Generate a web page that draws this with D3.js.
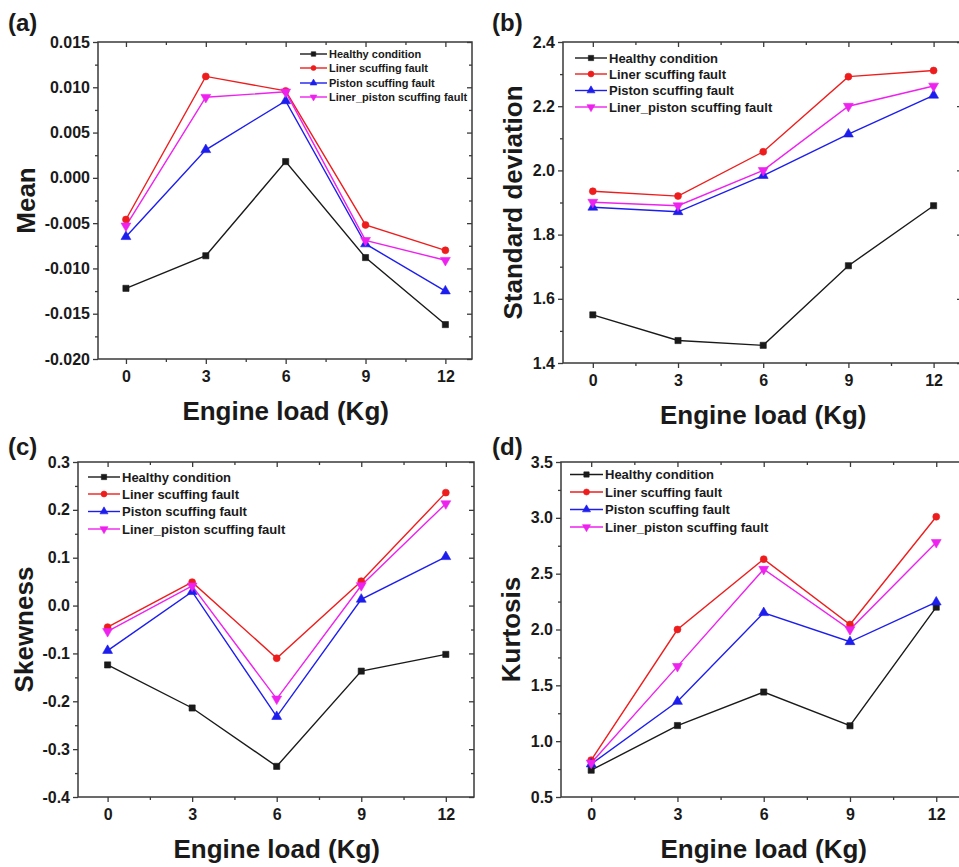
<!DOCTYPE html>
<html><head><meta charset="utf-8">
<script src="https://cdn.jsdelivr.net/npm/d3@7"></script>
<style>
body{margin:0;background:#fff}
svg{display:block}
text{font-family:"Liberation Sans",Arial,Helvetica,sans-serif;font-weight:bold;fill:#1a1a1a}
</style>
</head><body>
<svg id="chart" width="959" height="867"></svg>
<script>
// ---------------- data ----------------
const loads = [0, 3, 6, 9, 12];
const loadMinorTicks = [-1.5, 1.5, 4.5, 7.5, 10.5];
const seriesNames = ["Healthy condition", "Liner scuffing fault", "Piston scuffing fault", "Liner_piston scuffing fault"];

const meanHealthy     = [-0.0122, -0.0086, 0.0018, -0.0088, -0.0162];
const meanLiner       = [-0.0046, 0.0112, 0.0096, -0.0052, -0.0080];
const meanPiston      = [-0.0065, 0.0031, 0.0085, -0.0073, -0.0125];
const meanLinerPiston = [-0.0053, 0.0089, 0.0095, -0.0069, -0.0091];

const stdHealthy     = [1.550, 1.470, 1.455, 1.703, 1.890];
const stdLiner       = [1.935, 1.920, 2.058, 2.292, 2.311];
const stdPiston      = [1.885, 1.871, 1.984, 2.113, 2.234];
const stdLinerPiston = [1.901, 1.890, 2.000, 2.200, 2.263];

const skewHealthy     = [-0.124, -0.214, -0.336, -0.137, -0.102];
const skewLiner       = [-0.045, 0.049, -0.110, 0.051, 0.236];
const skewPiston      = [-0.094, 0.029, -0.232, 0.013, 0.102];
const skewLinerPiston = [-0.054, 0.041, -0.195, 0.042, 0.213];

const kurtHealthy     = [0.740, 1.140, 1.440, 1.138, 2.200];
const kurtLiner       = [0.830, 2.000, 2.630, 2.045, 3.010];
const kurtPiston      = [0.795, 1.355, 2.150, 1.890, 2.245];
const kurtLinerPiston = [0.805, 1.670, 2.540, 2.000, 2.780];

const meanTicks = [-0.020, -0.015, -0.010, -0.005, 0.000, 0.005, 0.010, 0.015];
const stdTicks  = [1.4, 1.6, 1.8, 2.0, 2.2, 2.4];
const skewTicks = [-0.4, -0.3, -0.2, -0.1, 0.0, 0.1, 0.2, 0.3];
const kurtTicks = [0.5, 1.0, 1.5, 2.0, 2.5, 3.0, 3.5];

// ---------------- style ----------------
const seriesColors = ["#1a1a1a", "#ee1d1d", "#1d1dee", "#ee22ee"];
const seriesSymbols = ["square", "circle", "up", "down"];

// ---------------- layout ----------------
const panels = [
  {label:"(a)", lx:8, ly:31, left:98, right:472, top:42, bottom:359,
   values:[meanHealthy, meanLiner, meanPiston, meanLinerPiston], ticks:meanTicks, fmt:".3f",
   yTitle:"Mean", yTitleX:35, leg:{x1:300, x2:327, rows:[54,68,83,97], fs:11}},
  {label:"(b)", lx:492, ly:31, left:563, right:962, top:42, bottom:363,
   values:[stdHealthy, stdLiner, stdPiston, stdLinerPiston], ticks:stdTicks, fmt:".1f",
   yTitle:"Standard deviation", yTitleX:522, leg:{x1:575, x2:607, rows:[58,74,90.5,107], fs:13}},
  {label:"(c)", lx:8, ly:455, left:78, right:474, top:462, bottom:797,
   values:[skewHealthy, skewLiner, skewPiston, skewLinerPiston], ticks:skewTicks, fmt:".1f",
   yTitle:"Skewness", yTitleX:33, leg:{x1:88, x2:120, rows:[477,494,511.5,529], fs:13}},
  {label:"(d)", lx:492, ly:455, left:561, right:965, top:462, bottom:797,
   values:[kurtHealthy, kurtLiner, kurtPiston, kurtLinerPiston], ticks:kurtTicks, fmt:".1f",
   yTitle:"Kurtosis", yTitleX:520, leg:{x1:570, x2:603, rows:[474.5,492,509.5,527], fs:13}}
];

const svg = d3.select("#chart");

function symbolPath(kind, size){
  if (kind === "square") return d3.symbol(d3.symbolSquare, size)();
  if (kind === "circle") return d3.symbol(d3.symbolCircle, size)();
  return d3.symbol(d3.symbolTriangle, size)();
}
function drawMarker(g, kind, cx, cy, size, color){
  g.append("path")
    .attr("d", symbolPath(kind, size))
    .attr("transform", `translate(${cx},${cy})` + (kind === "down" ? " rotate(180)" : ""))
    .attr("fill", color).attr("stroke", color).attr("stroke-width", 0.6);
}

panels.forEach(p => {
  const g = svg.append("g");
  const x = d3.scaleLinear().domain([-1.05, 13]).range([p.left, p.right]);
  const yDom = d3.extent(p.ticks);
  const y = d3.scaleLinear().domain(yDom).range([p.bottom, p.top]);
  const f = d3.format(p.fmt);
  const fmt = v => f(v).replace("\u2212", "-");
  const yMinor = p.ticks.slice(0, -1).map((t, i) => (t + p.ticks[i + 1]) / 2);

  // frame
  g.append("rect").attr("x", p.left).attr("y", p.top)
    .attr("width", p.right - p.left).attr("height", p.bottom - p.top)
    .attr("fill", "none").attr("stroke", "#3a3a3a").attr("stroke-width", 1.5);

  const styleAxis = sel => {
    sel.select(".domain").remove();
    sel.selectAll("line").attr("stroke", "#3a3a3a").attr("stroke-width", 1.3);
    sel.selectAll("text").style("font-size", "16px").style("font-family", '"Liberation Sans",Arial,sans-serif')
      .style("font-weight", "bold").attr("fill", "#1a1a1a");
  };

  // bottom
  g.append("g").attr("transform", `translate(0,${p.bottom})`)
    .call(d3.axisBottom(x).tickValues(loads).tickSize(5).tickPadding(7).tickFormat(d3.format("d"))).call(styleAxis);
  g.append("g").attr("transform", `translate(0,${p.bottom})`)
    .call(d3.axisBottom(x).tickValues(loadMinorTicks.filter(v => v > -1.05)).tickSize(3).tickFormat("")).call(styleAxis);
  // top (inward)
  g.append("g").attr("transform", `translate(0,${p.top})`)
    .call(d3.axisTop(x).tickValues(loads).tickSize(-5).tickFormat("")).call(styleAxis);
  g.append("g").attr("transform", `translate(0,${p.top})`)
    .call(d3.axisTop(x).tickValues(loadMinorTicks.filter(v => v > -1.05)).tickSize(-3).tickFormat("")).call(styleAxis);
  // left
  g.append("g").attr("transform", `translate(${p.left},0)`)
    .call(d3.axisLeft(y).tickValues(p.ticks).tickSize(5).tickPadding(3).tickFormat(fmt)).call(styleAxis);
  g.append("g").attr("transform", `translate(${p.left},0)`)
    .call(d3.axisLeft(y).tickValues(yMinor).tickSize(3).tickFormat("")).call(styleAxis);
  // right (inward)
  g.append("g").attr("transform", `translate(${p.right},0)`)
    .call(d3.axisRight(y).tickValues(p.ticks).tickSize(-5).tickFormat("")).call(styleAxis);
  g.append("g").attr("transform", `translate(${p.right},0)`)
    .call(d3.axisRight(y).tickValues(yMinor).tickSize(-3).tickFormat("")).call(styleAxis);

  // series
  const line = d3.line().x((d, i) => x(loads[i])).y(d => y(d));
  p.values.forEach((vals, si) => {
    g.append("path").datum(vals).attr("d", line)
      .attr("fill", "none").attr("stroke", seriesColors[si]).attr("stroke-width", 1.4);
  });
  p.values.forEach((vals, si) => {
    vals.forEach((v, i) => drawMarker(g, seriesSymbols[si], x(loads[i]), y(v), si >= 2 ? 42 : 38, seriesColors[si]));
  });

  // legend
  const L = p.leg;
  seriesNames.forEach((name, si) => {
    const ry = L.rows[si];
    g.append("line").attr("x1", L.x1).attr("x2", L.x2).attr("y1", ry).attr("y2", ry)
      .attr("stroke", seriesColors[si]).attr("stroke-width", 1.4);
    drawMarker(g, seriesSymbols[si], (L.x1 + L.x2) / 2, ry, L.fs < 12 ? 20 : 28, seriesColors[si]);
    g.append("text").attr("x", L.x2 + 2).attr("y", ry).attr("dy", "0.35em")
      .style("font-size", L.fs + "px").text(name);
  });

  // titles
  g.append("text").attr("x", p.lx).attr("y", p.ly).style("font-size", "24px").text(p.label);
  g.append("text").attr("transform", `translate(${p.yTitleX},${(p.top + p.bottom) / 2}) rotate(-90)`)
    .attr("text-anchor", "middle").style("font-size", "26px").text(p.yTitle);
  g.append("text").attr("x", x(6)).attr("y", p.bottom + 61).attr("text-anchor", "middle")
    .style("font-size", "26px").text("Engine load (Kg)");
});
</script>
</body></html>
